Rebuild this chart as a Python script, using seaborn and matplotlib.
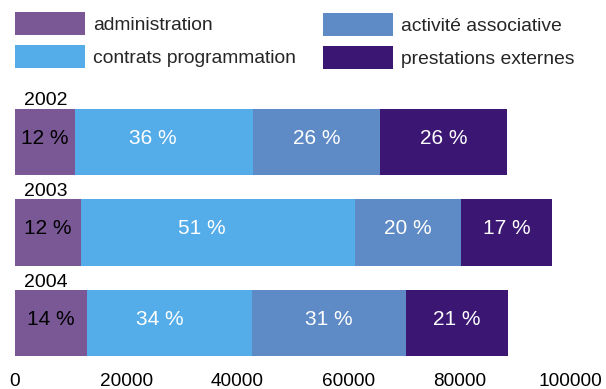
import numpy as np
import pandas as pd
import matplotlib
matplotlib.use("Agg")
import matplotlib.pyplot as plt
import seaborn as sns

# ---- data ----
years = ["2002", "2003", "2004"]
categories = ["administration", "contrats programmation",
              "activité associative", "prestations externes"]
administration = [10800, 11900, 12950]
contrats = [32000, 49300, 29700]
associative = [22850, 19050, 27700]
externes = [22950, 16400, 18350]
pct_admin = ["12 %", "12 %", "14 %"]
pct_contrats = ["36 %", "51 %", "34 %"]
pct_assoc = ["26 %", "20 %", "31 %"]
pct_ext = ["26 %", "17 %", "21 %"]
xticks = [0, 20000, 40000, 60000, 80000, 100000]
xticklabels = ["0", "20000", "40000", "60000", "80000", "100000"]

colors = ["#7A5896", "#54ACE9", "#5E8AC6", "#3B1773"]
text_colors = ["black", "white", "white", "white"]

sns.set_theme(style="white")
plt.rcParams["font.family"] = ["Liberation Sans", "DejaVu Sans"]

W, H = 606, 389
fig = plt.figure(figsize=(W / 100, H / 100), dpi=100)
ax = fig.add_axes([15 / W, 1 - 365 / H, 555.7 / W, 265 / H])

series = [administration, contrats, associative, externes]
pcts = [pct_admin, pct_contrats, pct_assoc, pct_ext]
cum = np.cumsum(np.array(series, dtype=float), axis=0)

for k in reversed(range(len(series))):
    df = pd.DataFrame({"year": years, "value": cum[k]})
    sns.barplot(data=df, x="value", y="year", orient="h", color=colors[k],
                saturation=1, width=0.73, linewidth=0, errorbar=None,
                ax=ax, label=categories[k])

if ax.get_legend() is not None:
    ax.get_legend().remove()

ax.set_xlim(0, 100000)
ax.set_ylim(2.464, -0.464)
for s in ax.spines.values():
    s.set_visible(False)
ax.set_yticks([])
ax.set_ylabel("")
ax.set_xlabel("")
ax.set_xticks(xticks)
ax.set_xticklabels(xticklabels)
ax.tick_params(axis="x", length=0, pad=5.5, labelsize=13.7, colors="black")

# percentage labels
fracs = [0.5, 0.44, 0.5, 0.5]
for k, seg in enumerate(series):
    left = cum[k] - np.array(seg)
    for i in range(len(years)):
        ax.text(left[i] + seg[i] * fracs[k], i - 0.04, pcts[k][i],
                ha="center", va="center", color=text_colors[k], fontsize=15)

# year labels
for i, y in enumerate(years):
    ax.text(5600, i - 0.453, y, ha="center", va="center", fontsize=14,
            color="black")

# legends
handles, labels = ax.get_legend_handles_labels()
hmap = dict(zip(labels, handles))
common = dict(loc="upper left", frameon=False, borderpad=0, borderaxespad=0,
              handlelength=3.62, handleheight=1.45, handletextpad=0.42,
              labelspacing=0.52, fontsize=13.9)
fig.legend(handles=[hmap[categories[0]], hmap[categories[1]]],
           labels=[categories[0], categories[1]],
           bbox_to_anchor=(15 / W, 1 - 12 / H), **common)
fig.legend(handles=[hmap[categories[2]], hmap[categories[3]]],
           labels=[categories[2], categories[3]],
           bbox_to_anchor=(323 / W, 1 - 13 / H), **common)

fig.savefig("out.png", dpi=100)
